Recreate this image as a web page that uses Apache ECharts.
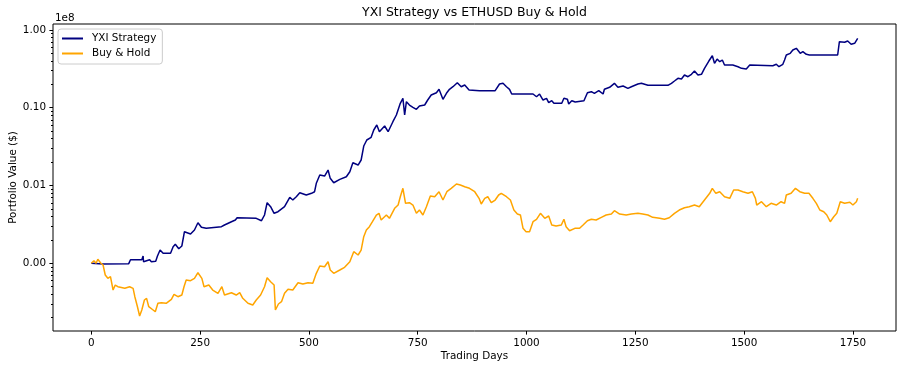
<!DOCTYPE html>
<html><head><meta charset="utf-8">
<script src="https://cdn.jsdelivr.net/npm/echarts@6/dist/echarts.min.js"></script>
<style>html,body{margin:0;padding:0;background:#fff}#c{width:904px;height:372px}</style>
</head><body><div id="c"></div>
<script>
const FONT = 'DejaVu Sans';
const seriesNames = ['YXI Strategy', 'Buy & Hold'];

const stratDays = [
  0,27,86,90,116,119,120,134,138,148,
  152,158,165,182,188,193,201,208,214,218,
  228,237,245,253,264,299,306,322,331,335,
  379,391,398,404,412,420,429,433,444,456,
  463,471,479,494,506,513,517,525,536,544,
  549,557,571,586,594,601,613,620,626,633,
  643,649,656,662,674,682,693,701,705,710,
  716,720,724,731,739,747,754,766,773,781,
  793,799,808,816,823,831,841,850,858,868,
  892,928,938,946,954,961,966,1015,1023,1030,
  1038,1046,1051,1058,1063,1081,1086,1094,1097,1104,
  1112,1132,1140,1149,1156,1166,1176,1179,1191,1202,
  1210,1222,1233,1241,1256,1264,1279,1325,1333,1340,
  1348,1356,1363,1371,1379,1386,1394,1402,1409,1419,
  1427,1432,1438,1444,1450,1455,1474,1486,1494,1505,
  1513,1566,1574,1580,1589,1593,1597,1606,1612,1620,
  1629,1635,1643,1650,1715,1719,1731,1738,1746,1754,
  1761
];
const stratValues = [
  100000,98000,99000,111200,111200,124100,104800,111200,104800,106100,
  124100,148200,134450,134450,163500,175500,154000,166900,254800,267900,
  237900,267900,332500,290200,281800,295400,310700,342500,360100,385500,
  378700,352800,417700,601000,534000,439200,460400,447100,534000,705200,
  651000,717800,807900,755100,793700,832300,1067000,1364000,1325000,1582000,
  1237000,1086000,1201000,1298000,1504000,1963000,1834000,2127000,3218000,3845000,
  4165000,5168000,5993000,4914000,5817000,4914000,6607000,8055000,8472000,11390000,
  13206000,8055000,11945000,10830000,10120000,9537000,10515000,10830000,12560000,14560000,
  15585000,17235000,12820000,15310000,17235000,18615000,20960000,18615000,19570000,16880000,
  16540000,16540000,20160000,20580000,18615000,17235000,14995000,14995000,13844000,14995000,
  12560000,13206000,11596000,12302000,11390000,11390000,13206000,12820000,11155000,12302000,
  11835000,12302000,15585000,16060000,15310000,16540000,14995000,17235000,18290000,20580000,
  18290000,19010000,17755000,18615000,20160000,20580000,19400000,19400000,20580000,22030000,
  23870000,23380000,26320000,25030000,26870000,29620000,26320000,26870000,32090000,39830000,
  46590000,37210000,42250000,39020000,41020000,35390000,35390000,33650000,32090000,31430000,
  35390000,34660000,36120000,33650000,36120000,41020000,47560000,50020000,55130000,57990000,
  50020000,52450000,48560000,47560000,47560000,70520000,69270000,71980000,65280000,67250000,
  77960000
];

const bhDays = [
  0,6,11,15,21,27,32,38,44,50,
  55,61,77,88,96,100,106,111,116,122,
  127,132,142,147,153,161,172,184,190,199,
  208,213,218,228,237,245,254,259,270,279,
  291,300,306,322,333,341,348,360,371,379,
  389,398,404,412,420,423,430,437,444,452,
  463,475,486,498,509,517,525,536,544,549,
  557,571,582,594,603,613,620,626,632,639,
  646,655,661,666,678,685,697,705,710,716,
  722,731,739,747,754,762,770,779,789,799,
  808,817,827,839,848,858,869,881,891,896,
  904,911,919,928,936,942,954,963,971,979,
  986,992,999,1007,1015,1023,1032,1042,1051,1058,
  1068,1080,1086,1091,1099,1111,1122,1130,1140,1149,
  1160,1172,1183,1195,1202,1214,1229,1241,1256,1267,
  1279,1290,1306,1317,1328,1340,1351,1363,1374,1386,
  1397,1409,1421,1427,1435,1444,1455,1467,1476,1486,
  1497,1509,1519,1526,1529,1540,1551,1562,1574,1585,
  1593,1597,1608,1618,1628,1639,1649,1658,1666,1674,
  1683,1690,1698,1706,1713,1721,1731,1743,1750,1758,
  1761
];
const bhValues = [
  100000,108000,100000,112600,101800,95100,70720,64150,67270,45380,
  52620,50030,47720,50030,47720,37220,27680,21020,25110,33760,
  35490,27680,25110,23880,30610,31160,30610,34460,39950,37220,
  39130,50030,61020,59770,64150,75710,64150,50030,52620,45380,
  41150,50030,39130,41900,39130,41900,35490,30610,29110,33760,
  39130,50030,65300,58000,52620,25110,29990,32090,41150,46330,
  45380,56320,54190,56320,55340,74380,92320,90430,104800,82010,
  74380,82010,88830,104800,141000,127900,148200,219800,267900,295400,
  342500,417700,439200,360100,417700,378700,509300,561500,717800,920400,
  590500,601000,561500,439200,484300,417700,534000,732800,717800,832300,
  651000,832300,920400,1045000,1015000,965000,920400,832300,684600,578400,
  684600,717800,601000,651000,755100,793700,717800,651000,484300,430200,
  417700,281800,254800,254800,342500,367900,439200,378700,405500,310700,
  301600,310700,367900,295400,262400,281800,281800,310700,352800,367900,
  360100,390100,417700,430200,474400,430200,417700,430200,439200,430200,
  417700,390100,378700,367900,385500,439200,484300,518400,534000,561500,
  534000,651000,793700,920400,793700,832300,717800,684600,875200,875200,
  832300,793700,832300,684600,561500,619000,534000,590500,561500,619000,
  590500,755100,793700,920400,832300,793700,793700,684600,590500,484300,
  460400,417700,342500,397100,439200,619000,590500,608200,561500,619000,
  684600
];

const xTicks = [0, 250, 500, 750, 1000, 1250, 1500, 1750];
const yTicks = [1e5, 1e6, 1e7, 1e8];
const yMinorTicks = [
  2e4,3e4,4e4,5e4,6e4,7e4,8e4,9e4,
  2e5,3e5,4e5,5e5,6e5,7e5,8e5,9e5,
  2e6,3e6,4e6,5e6,6e6,7e6,8e6,9e6,
  2e7,3e7,4e7,5e7,6e7,7e7,8e7,9e7
];

function zip(a, b) { return a.map((d, i) => [d, b[i]]); }

const X_MIN = -88.05, X_MAX = 1849.05;
const Y_MIN = 13490, Y_MAX = 1.191e8;
const txt = { fontFamily: FONT, fontSize: 10.4, color: '#000' };

const chart = echarts.init(document.getElementById('c'), null, { renderer: 'canvas' });
chart.setOption({
  animation: false,
  backgroundColor: '#fff',
  title: {
    text: 'YXI Strategy vs ETHUSD Buy & Hold',
    left: 474.5, top: 6, textAlign: 'center', padding: 0,
    textStyle: { fontFamily: FONT, fontSize: 12.5, fontWeight: 'normal', color: '#000' }
  },
  legend: {
    orient: 'vertical', left: 58, top: 29,
    itemWidth: 21, itemHeight: 2, itemGap: 2,
    padding: [3, 6, 4, 4],
    backgroundColor: 'rgba(255,255,255,0.8)',
    borderColor: '#cccccc', borderWidth: 1, borderRadius: 3,
    textStyle: Object.assign({ lineHeight: 13, padding: [0, 0, 0, 4] }, txt),
    data: seriesNames.map(n => ({ name: n, icon: 'rect' }))
  },
  grid: {
    left: 53, right: 8, top: 24, bottom: 41, show: true,
    borderColor: '#000', borderWidth: 1, backgroundColor: 'transparent',
    outerBoundsMode: 'none', containLabel: false
  },
  xAxis: {
    type: 'value', min: X_MIN, max: X_MAX,
    axisLine: { show: false, onZero: false },
    splitLine: { show: false },
    axisTick: { show: true, customValues: xTicks, length: 3.6, lineStyle: { color: '#000', width: 1 } },
    axisLabel: Object.assign({ customValues: xTicks, margin: 7, formatter: v => String(v) }, txt),
    name: 'Trading Days', nameLocation: 'middle', nameGap: 20, nameMoveOverlap: false,
    nameTextStyle: txt
  },
  yAxis: [{
    type: 'log', logBase: 10, min: Y_MIN, max: Y_MAX, position: 'left',
    axisLine: { show: false, onZero: false },
    splitLine: { show: false },
    axisTick: { show: true, customValues: yTicks, length: 3.6, lineStyle: { color: '#000', width: 1 } },
    axisLabel: Object.assign({ customValues: yTicks, margin: 7, formatter: v => (v / 1e8).toFixed(2) }, txt),
    name: 'Portfolio Value ($)', nameLocation: 'middle', nameGap: 35, nameMoveOverlap: false,
    nameTextStyle: txt
  }, {
    type: 'log', logBase: 10, min: Y_MIN, max: Y_MAX, position: 'left', offset: 0,
    axisLine: { show: false, onZero: false },
    splitLine: { show: false },
    axisTick: { show: true, customValues: yMinorTicks, length: 2, lineStyle: { color: '#000', width: 1 } },
    axisLabel: { show: false },
    name: '1e8', nameLocation: 'end', nameGap: 1, nameMoveOverlap: false,
    nameTextStyle: Object.assign({ align: 'left', verticalAlign: 'bottom', padding: [0, 0, 0, 2] }, txt)
  }],
  series: [{
    name: seriesNames[0], type: 'line', yAxisIndex: 0,
    data: zip(stratDays, stratValues),
    showSymbol: false, symbol: 'none',
    lineStyle: { color: '#000080', width: 1.5 }, itemStyle: { color: '#000080' }
  }, {
    name: seriesNames[1], type: 'line', yAxisIndex: 0,
    data: zip(bhDays, bhValues),
    showSymbol: false, symbol: 'none',
    lineStyle: { color: '#FFA500', width: 1.5 }, itemStyle: { color: '#FFA500' }
  }]
});
</script>
</body></html>
